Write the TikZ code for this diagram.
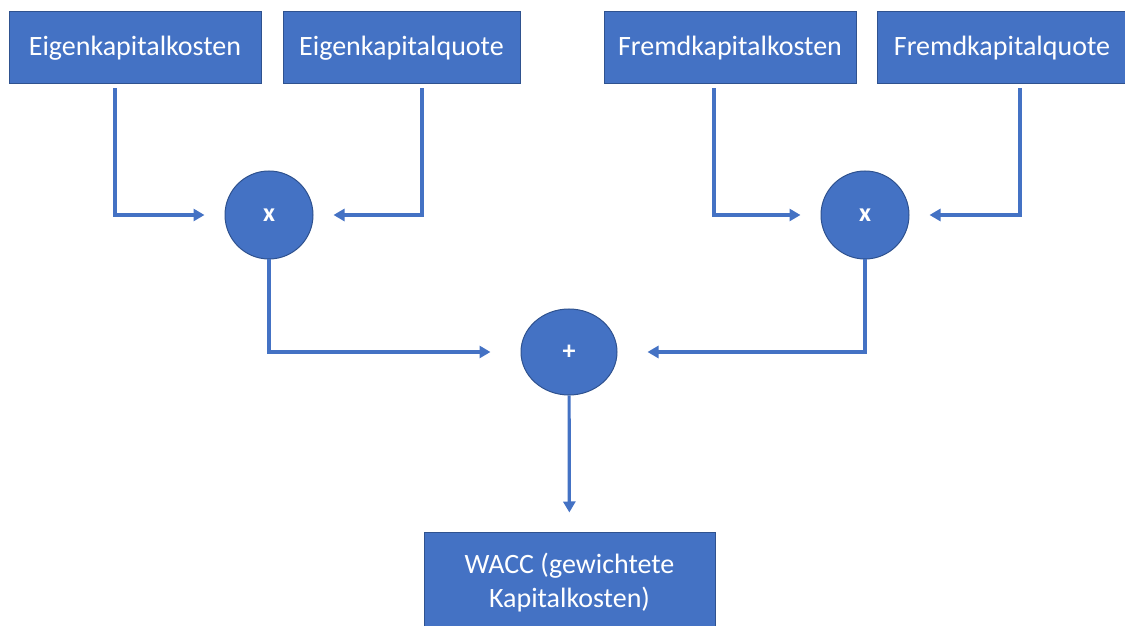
\documentclass[tikz,border=0pt]{standalone}
\usepackage{fontspec}
\setmainfont{Carlito}
\usetikzlibrary{arrows.meta,shapes.geometric}
\definecolor{officeblue}{HTML}{4472C4}
\definecolor{officeedge}{HTML}{2F528F}
\def\BoxH{72}
\def\TopY{578}
\def\MulY{411}
\def\SumY{274}
\def\Gap{20}

\begin{document}
\begin{tikzpicture}[x=1pt,y=1pt,
    box/.style={draw=officeedge, fill=officeblue, text=white, line width=1pt,
      minimum height=\BoxH, inner sep=0pt, font=\fontsize{28}{34}\selectfont},
    op/.style={draw=officeedge, fill=officeblue, text=white, line width=1pt,
      inner sep=0pt, font=\fontsize{26}{30}\selectfont\bfseries},
    flow/.style={draw=officeblue, line width=3.2pt,
      -{Triangle[length=11pt,width=12pt]}, shorten <=4pt}]
  \useasboundingbox (0,0) rectangle (1125,626);
  % inputs
  \node[box, minimum width=252] (ekk) at (135,\TopY) {Eigenkapitalkosten};
  \node[box, minimum width=237] (ekq) at (401.5,\TopY) {Eigenkapitalquote};
  \node[box, minimum width=252] (fkk) at (730,\TopY) {Fremdkapitalkosten};
  \node[box, minimum width=250] (fkq) at (1002,\TopY) {Fremdkapitalquote};
  % operators
  \node[op, circle, minimum size=88] (mulek) at (269,\MulY) {x};
  \node[op, circle, minimum size=88] (mulfk) at (865,\MulY) {x};
  \node[op, ellipse, minimum width=96, minimum height=86] (sum) at (569,\SumY) {+};
  % result
  \node[box, minimum width=291, minimum height=100, align=center] (wacc) at (569.5,43)
    {WACC (gewichtete\\Kapitalkosten)};
  % connectors
  \draw[flow, shorten >=\Gap] ([xshift=-20]ekk.south) |- (mulek.west);
  \draw[flow, shorten >=\Gap] ([xshift=20.5]ekq.south) |- (mulek.east);
  \draw[flow, shorten >=\Gap] ([xshift=-16]fkk.south) |- (mulfk.west);
  \draw[flow, shorten >=\Gap] ([xshift=18]fkq.south) |- (mulfk.east);
  \draw[flow, shorten <=0pt, shorten >=30] (mulek.south) |- (sum.west);
  \draw[flow, shorten <=0pt, shorten >=30] (mulfk.south) |- (sum.east);
  \draw[flow, shorten <=0pt, shorten >=\Gap] (sum) -- (wacc);
\end{tikzpicture}
\end{document}
